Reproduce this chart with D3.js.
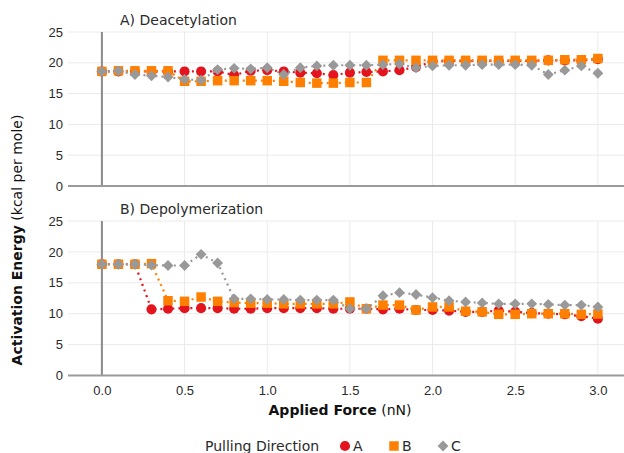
<!DOCTYPE html>
<html lang="en">
<head>
  <meta charset="UTF-8" />
  <title>Activation Energy vs Applied Force</title>
  <script src="https://d3js.org/d3.v7.min.js"></script>
  <style>
    body { margin: 0; background: #fff; font-family: "DejaVu Sans", sans-serif; }
    svg { display: block; }
    .tick text { font-size: 13px; fill: #2a2a2a; }
  </style>
</head>
<body>
  <svg width="624" height="453"></svg>
  <script>
    // applied force, nN
    const force = d3.range(31).map(i => +(i * 0.1).toFixed(1));

    // A) Deacetylation
    const deacA = [18.6, 18.6, 18.6, 18.6, 18.6, 18.6, 18.6, 18.6, 18.0, 18.7, 18.8,
                   18.6, 18.4, 18.3, 18.0, 18.4, 18.5, 18.6, 18.8, 19.3, 20.2,
                   20.3, 20.3, 20.3, 20.3, 20.3, 20.3, 20.4, 20.4, 20.4, 20.6];
    const deacB = [18.6, 18.7, 18.7, 18.7, 18.7, 17.0, 17.0, 17.1, 17.1, 17.1, 17.1,
                   17.0, 16.8, 16.7, 16.7, 16.8, 16.8, 20.4, 20.4, 20.4, 20.4,
                   20.4, 20.4, 20.4, 20.4, 20.4, 20.4, 20.4, 20.5, 20.5, 20.7];
    const deacC = [18.6, 18.7, 18.1, 17.9, 17.7, 17.3, 17.2, 18.9, 19.1, 19.0, 19.2,
                   18.1, 19.2, 19.5, 19.6, 19.6, 19.6, 19.7, 19.8, 19.2, 19.5,
                   19.6, 19.6, 19.7, 19.7, 19.7, 19.6, 18.1, 18.8, 19.5, 18.3];

    // B) Depolymerization
    const depoA = [18.0, 18.0, 18.0, 10.7, 10.8, 10.9, 10.9, 10.9, 10.8, 10.8, 10.9,
                   10.9, 10.9, 10.9, 10.8, 10.8, 10.8, 10.7, 10.8, 10.6, 10.6,
                   10.5, 10.3, 10.3, 10.5, 10.3, 10.1, 10.0, 9.9, 9.6, 9.2];
    const depoB = [18.0, 18.0, 18.0, 18.1, 12.1, 12.0, 12.7, 12.0, 11.8, 11.7, 11.7,
                   11.6, 11.6, 11.6, 11.6, 11.9, 10.8, 11.4, 11.4, 10.6, 11.1,
                   11.1, 10.4, 10.3, 9.9, 9.9, 10.0, 10.0, 10.0, 9.9, 9.95];
    const depoC = [18.0, 18.0, 18.0, 17.85, 17.8, 17.8, 19.6, 18.2, 12.4, 12.4, 12.3,
                   12.3, 12.2, 12.2, 12.2, 10.8, 10.8, 12.9, 13.4, 13.1, 12.6,
                   12.1, 11.9, 11.75, 11.6, 11.6, 11.6, 11.5, 11.4, 11.4, 11.1];

    const yTicks = [0, 5, 10, 15, 20, 25];
    const xTicks = [0, 0.5, 1, 1.5, 2, 2.5, 3];
    const directions = ["A", "B", "C"];
    const colors = ["#e3141d", "#ff8000", "#999999"];
    const symbols = [d3.symbolCircle, d3.symbolSquare, d3.symbolDiamond2];
    const symbolSizes = [80, 90, 75];

    const panels = [
      { title: "A) Deacetylation", series: [deacA, deacB, deacC], top: 32, bottom: 186 },
      { title: "B) Depolymerization", series: [depoA, depoB, depoC], top: 221, bottom: 375.5 }
    ];

    const svg = d3.select("svg");
    const left = 68, right = 624;
    const x = d3.scaleLinear().domain([-0.205, 3.158]).range([left, right]);

    panels.forEach((p, pi) => {
      const y = d3.scaleLinear().domain([0, 25]).range([p.bottom, p.top]);
      const g = svg.append("g");

      // grid
      g.selectAll(".hg").data(yTicks.slice(1)).join("line")
        .attr("x1", left).attr("x2", right)
        .attr("y1", d => y(d)).attr("y2", d => y(d))
        .attr("stroke", "#ebebeb").attr("stroke-width", 1);
      g.selectAll(".vg").data(xTicks.slice(1)).join("line")
        .attr("x1", d => x(d)).attr("x2", d => x(d))
        .attr("y1", p.top).attr("y2", p.bottom)
        .attr("stroke", "#ebebeb").attr("stroke-width", 1);

      // y axis labels
      const yAxis = d3.axisLeft(y).tickValues(yTicks).tickSize(0).tickPadding(4);
      const ya = g.append("g").attr("transform", `translate(${left - 1},0)`).call(yAxis);
      ya.select(".domain").remove();

      // x zero line and baseline
      g.append("line")
        .attr("x1", x(0)).attr("x2", x(0)).attr("y1", p.top).attr("y2", p.bottom)
        .attr("stroke", "#8a8a8a").attr("stroke-width", 2);
      g.append("line")
        .attr("x1", left).attr("x2", right).attr("y1", p.bottom).attr("y2", p.bottom)
        .attr("stroke", "#9a9a9a").attr("stroke-width", 2);

      if (pi === 1) {
        const xAxis = d3.axisBottom(x).tickValues(xTicks).tickFormat(d3.format(".1f")).tickSize(0).tickPadding(10);
        const xa = g.append("g").attr("transform", `translate(0,${p.bottom})`).call(xAxis);
        xa.select(".domain").remove();
      }

      g.append("text")
        .attr("x", 120).attr("y", p.top - 7)
        .attr("font-size", 14).attr("fill", "#2a2a2a")
        .text(p.title);

      const line = d3.line().x((d, i) => x(force[i])).y(d => y(d));

      p.series.forEach((s, si) => {
        const sg = g.append("g");
        sg.append("path").datum(s)
          .attr("d", line)
          .attr("fill", "none")
          .attr("stroke", colors[si])
          .attr("stroke-width", 2.2)
          .attr("stroke-dasharray", "2,4");
        sg.selectAll("path.m").data(s).join("path")
          .attr("class", "m")
          .attr("transform", (d, i) => `translate(${x(force[i])},${y(d)})`)
          .attr("d", d3.symbol().type(symbols[si]).size(symbolSizes[si]))
          .attr("fill", colors[si]);
      });
    });

    // axis titles
    const yt = svg.append("text")
      .attr("transform", "translate(22,240) rotate(-90)")
      .attr("text-anchor", "middle").attr("font-size", 14).attr("fill", "#111");
    yt.append("tspan").attr("font-weight", "bold").text("Activation Energy");
    yt.append("tspan").text(" (kcal per mole)");

    const xt = svg.append("text")
      .attr("x", 340).attr("y", 415)
      .attr("text-anchor", "middle").attr("font-size", 14).attr("fill", "#111");
    xt.append("tspan").attr("font-weight", "bold").text("Applied Force");
    xt.append("tspan").text(" (nN)");

    // legend
    const lg = svg.append("g").attr("transform", "translate(0,446)");
    lg.append("text").attr("x", 205).attr("y", 5).attr("font-size", 14).attr("fill", "#2a2a2a")
      .text("Pulling Direction");
    const legendX = [345, 394, 443];
    directions.forEach((d, i) => {
      lg.append("path")
        .attr("transform", `translate(${legendX[i]},0)`)
        .attr("d", d3.symbol().type(symbols[i]).size(symbolSizes[i]))
        .attr("fill", colors[i]);
      lg.append("text").attr("x", legendX[i] + 8).attr("y", 5)
        .attr("font-size", 14).attr("fill", "#2a2a2a").text(d);
    });
  </script>
</body>
</html>
